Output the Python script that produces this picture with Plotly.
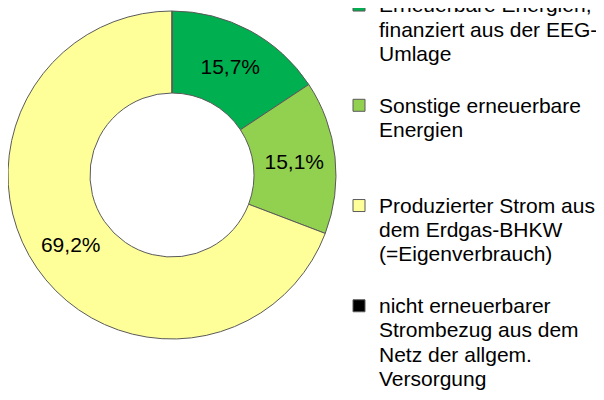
import plotly.graph_objects as go

label_lines = [
    ["Erneuerbare Energien,", "finanziert aus der EEG-", "Umlage"],
    ["Sonstige erneuerbare", "Energien"],
    ["Produzierter Strom aus", "dem Erdgas-BHKW", "(=Eigenverbrauch)"],
    ["nicht erneuerbarer", "Strombezug aus dem", "Netz der allgem.", "Versorgung"],
]
values = [15.7, 15.1, 69.2, 0.0]
colors = ["#00B050", "#92D050", "#FFFF99", "#000000"]

W, H = 604, 400
OFF = 8  # page body margin
r = 164
cx, cy = r, 175 - OFF
LEG_LINES = 4


def legend_label(lines):
    parts = ['<span style="font-size:21px">%s</span>' % s for s in lines]
    parts += ["\u00a0"] * (LEG_LINES - len(lines))
    return "<br>".join(parts)


labels = [legend_label(l) for l in label_lines]

fig = go.Figure(go.Pie(
    labels=labels,
    values=values,
    sort=False,
    direction="clockwise",
    rotation=0,
    hole=0.5,
    marker=dict(colors=colors, line=dict(color="#5A5A5A", width=1)),
    texttemplate="%{value:.1f}%",
    textposition="inside",
    insidetextorientation="horizontal",
    textfont=dict(family="Liberation Sans, Arial", size=21, color="#000000"),
    domain=dict(x=[(cx - r) / W, (cx + r) / W], y=[(H - cy - r) / H, (H - cy + r) / H]),
))

fig.update_layout(
    width=W, height=H,
    margin=dict(l=0, r=0, t=0, b=0, autoexpand=False),
    paper_bgcolor="white",
    separators=",.",
    font=dict(family="Liberation Sans, Arial", size=18, color="#000000"),
    legend=dict(
        x=331 / W, xanchor="left",
        y=1.054, yanchor="top",
        valign="top",
        bgcolor="rgba(0,0,0,0)",
        font=dict(size=18.7),
        itemclick=False,
        maxheight=2000,
    ),
)

fig.write_html("out.html")
